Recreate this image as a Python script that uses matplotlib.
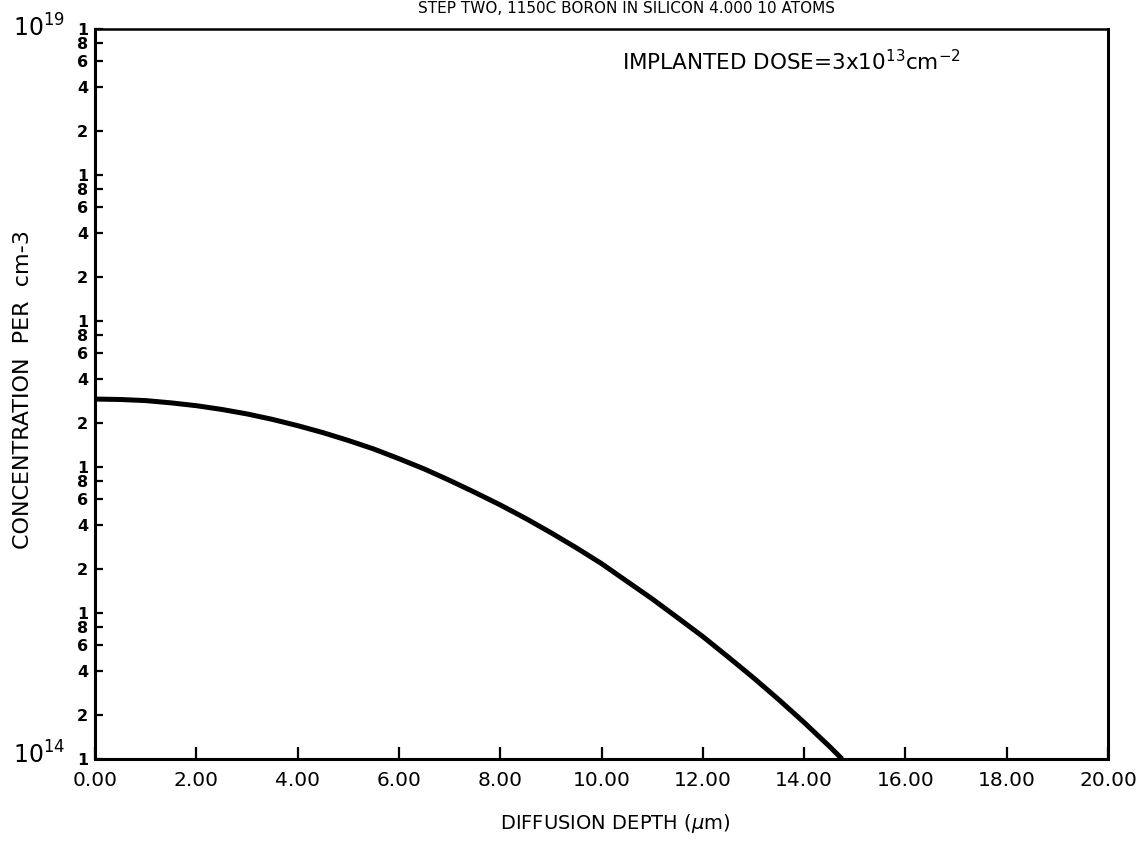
import numpy as np
import matplotlib
matplotlib.use("Agg")
import matplotlib.pyplot as plt
from matplotlib.ticker import FixedLocator, FuncFormatter, NullLocator

plt.rcParams['font.family'] = ['DejaVu Sans']
plt.rcParams['mathtext.default'] = 'regular'

# Data (depth in um, concentration per cm^3)
depth = [0.0, 0.5, 1.0, 1.5, 2.0, 2.5, 3.0, 3.5, 4.0, 4.5, 5.0, 5.5, 6.0, 6.5, 7.0,
         7.5, 8.0, 8.5, 9.0, 9.5, 10.0, 10.5, 11.0, 11.5, 12.0, 12.5, 13.0, 13.5,
         14.0, 14.5, 14.75]
conc = [2.92e16, 2.9e16, 2.85e16, 2.75e16, 2.63e16, 2.48e16, 2.31e16, 2.12e16, 1.92e16,
        1.72e16, 1.52e16, 1.33e16, 1.14e16, 9.7e15, 8.1e15, 6.7e15, 5.5e15, 4.45e15,
        3.55e15, 2.8e15, 2.18e15, 1.65e15, 1.25e15, 9.3e14, 6.9e14, 5.0e14, 3.6e14,
        2.55e14, 1.78e14, 1.22e14, 1.0e14]

x_ticks = [0, 2, 4, 6, 8, 10, 12, 14, 16, 18, 20]
x_tick_labels = ["0.00", "2.00", "4.00", "6.00", "8.00", "10.00", "12.00", "14.00", "16.00", "18.00", "20.00"]
decades = [14, 15, 16, 17, 18]
mantissas = [1, 2, 4, 6, 8]

title_text = "STEP TWO, 1150C BORON IN SILICON 4.000 10 ATOMS"
annotation_text = "IMPLANTED DOSE=3x10$^{13}$cm$^{-2}$"
x_label = r"DIFFUSION DEPTH ($\it{\mu}$m)"
y_label = "CONCENTRATION  PER  cm-3"

W, H = 1145, 843
fig = plt.figure(figsize=(W / 100, H / 100), dpi=100)
left, right, top, bottom = 95, 1108, 29, 759
ax = fig.add_axes([left / W, 1 - bottom / H, (right - left) / W, (bottom - top) / H])

ax.plot(depth, conc, color='black', lw=3.6, solid_joinstyle='round', solid_capstyle='butt')

ax.set_yscale('log')
ax.set_xlim(0, 20)
ax.set_ylim(1e14, 1e19)

yt = [m * 10.0 ** e for e in decades for m in mantissas] + [1e19]
ax.yaxis.set_major_locator(FixedLocator(yt))
ax.yaxis.set_minor_locator(NullLocator())

def yfmt(v, pos):
    e = np.floor(np.log10(v) + 1e-9)
    return str(int(round(v / 10 ** e)))

ax.yaxis.set_major_formatter(FuncFormatter(yfmt))
ax.set_xticks(x_ticks)
ax.set_xticklabels(x_tick_labels)

ax.tick_params(axis='x', direction='in', length=9, width=1.6, labelsize=14.5, pad=9,
               top=False)
ax.tick_params(axis='y', direction='in', length=6, width=1.6, labelsize=11.5, pad=5,
               right=False)
for lbl in ax.get_yticklabels():
    lbl.set_fontweight('bold')

for s in ax.spines.values():
    s.set_linewidth(2.2)
ax.spines['top'].set_linewidth(1.8)

ax.set_xlabel(x_label, fontsize=14, labelpad=14)
ax.xaxis.set_label_coords((615 - left) / (right - left), -(812 - bottom) / (bottom - top))
ax.set_ylabel(y_label, fontsize=16)
ax.yaxis.set_label_coords(-(left - 33) / (right - left), (bottom - 390) / (bottom - top))

ax.text(622 / W, 1 - 70 / H, annotation_text, transform=fig.transFigure, fontsize=15.5,
        ha='left', va='baseline')

fig.text(65 / W, 1 - 37 / H, "10$^{19}$", fontsize=17, ha='right', va='baseline')
fig.text(65 / W, 1 - 764 / H, "10$^{14}$", fontsize=17, ha='right', va='baseline')

fig.text(626 / W, 1 - 1 / H, title_text, fontsize=11, ha='center', va='top')

fig.savefig("out.png", dpi=100)
